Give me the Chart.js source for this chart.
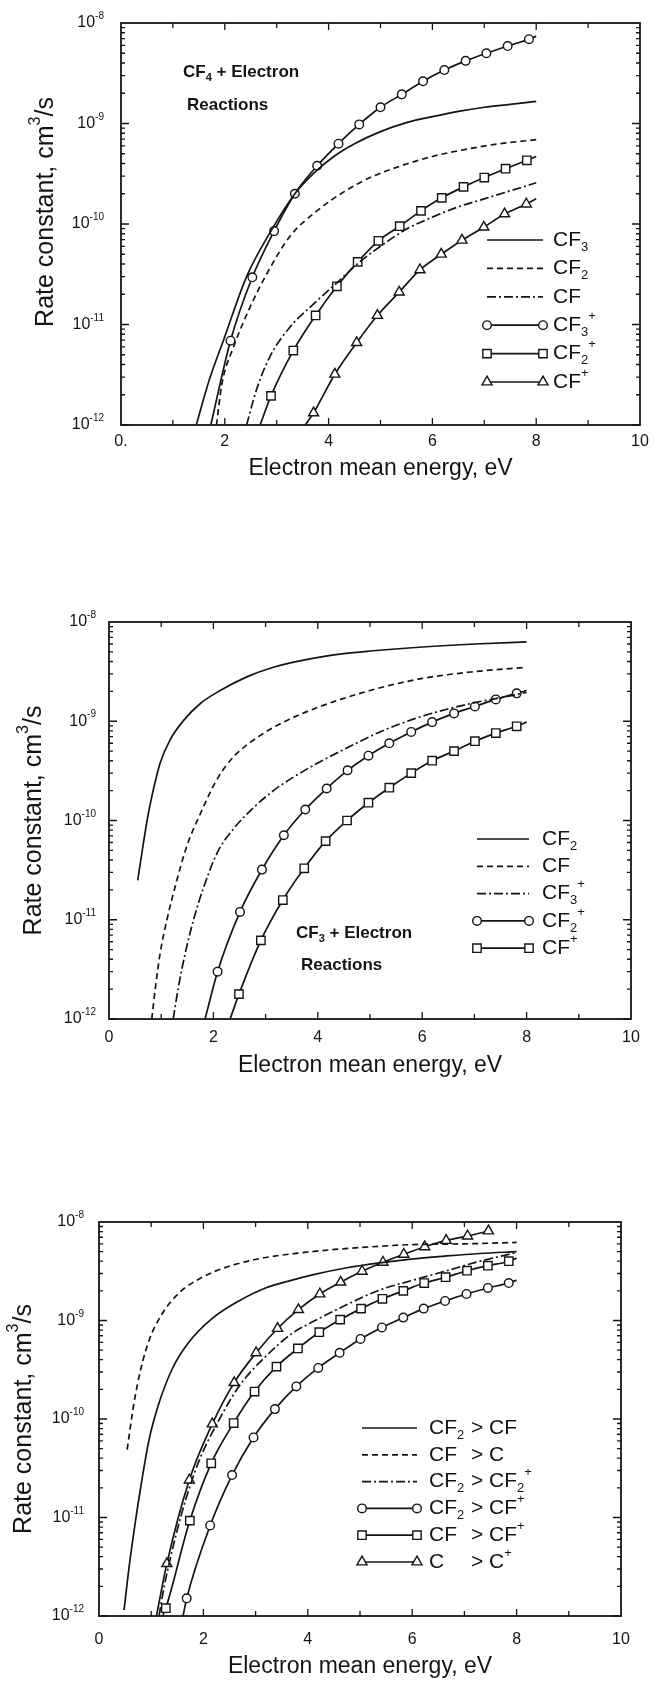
<!DOCTYPE html>
<html>
<head>
<meta charset="utf-8">
<script src="https://cdn.jsdelivr.net/npm/chart.js@4.4.1/dist/chart.umd.min.js"></script>
<style>
  body { margin: 0; background: #fff; width: 654px; height: 1685px; position: relative; overflow: hidden; }
  canvas { position: absolute; left: 0; }
</style>
</head>
<body>
<canvas id="c1" width="654" height="490" style="top:0px"></canvas>
<canvas id="c2" width="654" height="530" style="top:560px"></canvas>
<canvas id="c3" width="654" height="515" style="top:1170px"></canvas>
<script>
// axes
const xTicks = [0, 2, 4, 6, 8, 10];
const xLabelsFirst = ['0.', '2', '4', '6', '8', '10'];
const xLabels = ['0', '2', '4', '6', '8', '10'];
const yDecades = [-12, -11, -10, -9, -8];

// ---- panel 1: CF4 + electron ----
const p1Labels = ['CF_3', 'CF_2', 'CF', 'CF_3^+', 'CF_2^+', 'CF^+'];
const p1Cf3E = [1.45, 1.7, 1.98, 2.42, 2.9, 3.35, 3.7, 4.1, 4.5, 5.0, 5.5, 6.0, 6.5, 7.0, 7.5, 8.0];
const p1Cf3K = [1e-12, 2.8e-12, 7.1e-12, 3.0e-11, 8.7e-11, 2.0e-10, 3.16e-10, 4.7e-10, 6.3e-10, 8.3e-10, 1.02e-9, 1.17e-9, 1.32e-9, 1.45e-9, 1.55e-9, 1.66e-9];
const p1Cf2E = [1.84, 1.94, 2.17, 2.49, 2.81, 3.26, 3.8, 4.3, 4.8, 5.4, 6.0, 6.7, 7.3, 8.0];
const p1Cf2K = [1e-12, 2.5e-12, 6.0e-12, 1.5e-11, 3.2e-11, 7.6e-11, 1.38e-10, 2.1e-10, 2.9e-10, 3.8e-10, 4.7e-10, 5.6e-10, 6.3e-10, 6.9e-10];
const p1CfE = [2.42, 2.61, 2.87, 3.26, 3.64, 4.16, 4.6, 5.0, 5.5, 6.0, 6.5, 7.0, 7.5, 8.0];
const p1CfK = [1e-12, 2.24e-12, 4.8e-12, 9.5e-12, 1.48e-11, 2.6e-11, 4.2e-11, 6.0e-11, 8.9e-11, 1.17e-10, 1.48e-10, 1.78e-10, 2.14e-10, 2.57e-10];
const p1Cf3pE = [1.73, 2.11, 2.53, 2.95, 3.35, 3.78, 4.19, 4.59, 5.0, 5.41, 5.82, 6.23, 6.64, 7.04, 7.45, 7.86, 8.0];
const p1Cf3pK = [1e-12, 6.9e-12, 2.95e-11, 8.5e-11, 2.0e-10, 3.8e-10, 6.3e-10, 9.8e-10, 1.45e-9, 1.95e-9, 2.63e-9, 3.4e-9, 4.2e-9, 5.0e-9, 5.9e-9, 6.9e-9, 7.4e-9];
const p1Cf2pE = [2.68, 2.89, 3.32, 3.75, 4.16, 4.56, 4.96, 5.37, 5.78, 6.18, 6.6, 7.0, 7.41, 7.82, 8.0];
const p1Cf2pK = [1e-12, 1.95e-12, 5.5e-12, 1.23e-11, 2.4e-11, 4.2e-11, 6.8e-11, 9.5e-11, 1.35e-10, 1.82e-10, 2.34e-10, 2.9e-10, 3.55e-10, 4.3e-10, 4.7e-10];
const p1CfpE = [3.55, 3.71, 4.12, 4.54, 4.94, 5.36, 5.76, 6.17, 6.57, 6.99, 7.39, 7.81, 8.0];
const p1CfpK = [1e-12, 1.32e-12, 3.2e-12, 6.6e-12, 1.23e-11, 2.1e-11, 3.5e-11, 5.0e-11, 6.9e-11, 9.3e-11, 1.26e-10, 1.58e-10, 1.78e-10];

// ---- panel 2: CF3 + electron ----
const p2Labels = ['CF_2', 'CF', 'CF_3^+', 'CF_2^+', 'CF^+'];
const p2Cf2E = [0.55, 0.63, 0.73, 0.82, 0.98, 1.17, 1.43, 1.75, 2.13, 2.64, 3.15, 3.8, 4.5, 5.0, 6.0, 7.0, 8.0];
const p2Cf2K = [2.5e-11, 4.7e-11, 1.0e-10, 1.74e-10, 3.8e-10, 6.5e-10, 1.02e-9, 1.51e-9, 2.04e-9, 2.8e-9, 3.5e-9, 4.2e-9, 4.8e-9, 5.1e-9, 5.6e-9, 6.0e-9, 6.3e-9];
const p2CfE = [0.82, 0.89, 0.98, 1.11, 1.3, 1.49, 1.75, 2.07, 2.39, 2.9, 3.41, 4.0, 5.0, 6.0, 7.0, 8.0];
const p2CfK = [1e-12, 2.1e-12, 4.6e-12, 1.0e-11, 2.5e-11, 5.5e-11, 1.17e-10, 2.6e-10, 4.4e-10, 7.2e-10, 1.02e-9, 1.38e-9, 2.04e-9, 2.7e-9, 3.16e-9, 3.5e-9];
const p2Cf3pE = [1.23, 1.33, 1.46, 1.62, 1.81, 2.07, 2.39, 2.77, 3.15, 3.54, 4.0, 4.5, 5.19, 5.83, 6.47, 7.11, 7.43, 8.0];
const p2Cf3pK = [1e-12, 2.1e-12, 4.6e-12, 1.0e-11, 2.1e-11, 4.7e-11, 8.3e-11, 1.35e-10, 2.0e-10, 2.75e-10, 3.8e-10, 5.2e-10, 7.8e-10, 1.05e-9, 1.32e-9, 1.58e-9, 1.7e-9, 1.95e-9];
const p2Cf2pE = [1.84, 2.08, 2.51, 2.93, 3.35, 3.76, 4.17, 4.57, 4.97, 5.37, 5.79, 6.19, 6.61, 7.01, 7.41, 7.81, 8.0];
const p2Cf2pK = [1e-12, 3.0e-12, 1.2e-11, 3.2e-11, 7.1e-11, 1.29e-10, 2.1e-10, 3.2e-10, 4.5e-10, 6.0e-10, 7.8e-10, 9.8e-10, 1.2e-9, 1.41e-9, 1.66e-9, 1.91e-9, 2.04e-9];
const p2CfpE = [2.32, 2.49, 2.91, 3.33, 3.74, 4.15, 4.56, 4.97, 5.37, 5.79, 6.19, 6.61, 7.01, 7.41, 7.81, 8.0];
const p2CfpK = [1e-12, 1.78e-12, 6.2e-12, 1.58e-11, 3.3e-11, 6.2e-11, 1.0e-10, 1.51e-10, 2.14e-10, 3.0e-10, 4.0e-10, 5.0e-10, 6.3e-10, 7.6e-10, 8.9e-10, 9.8e-10];

// ---- panel 3: CF2, CF, C + electron ----
const p3Labels = ['CF_2|> CF', 'CF|> C', 'CF_2|> CF_2^+', 'CF_2|> CF^+', 'CF|> CF^+', 'C|> C^+'];
const p3Cf2CfE = [0.48, 0.57, 0.7, 0.8, 0.96, 1.15, 1.4, 1.72, 2.17, 2.68, 3.19, 3.7, 4.11, 4.75, 5.38, 6.02, 6.66, 7.3, 8.0];
const p3Cf2CfK = [1.15e-12, 2.95e-12, 9.3e-12, 2.04e-11, 6.2e-11, 1.45e-10, 3.2e-10, 6.0e-10, 1.05e-9, 1.58e-9, 2.14e-9, 2.57e-9, 2.92e-9, 3.43e-9, 3.85e-9, 4.22e-9, 4.52e-9, 4.79e-9, 5.0e-9];
const p3CfCE = [0.54, 0.67, 0.8, 0.96, 1.21, 1.53, 1.98, 2.49, 3.13, 3.77, 4.4, 5.0, 6.0, 7.0, 8.0];
const p3CfCK = [4.9e-11, 1.45e-10, 3.2e-10, 6.3e-10, 1.17e-9, 1.9e-9, 2.75e-9, 3.55e-9, 4.3e-9, 4.8e-9, 5.2e-9, 5.5e-9, 5.9e-9, 6.0e-9, 6.2e-9];
const p3Cf2Cf2pE = [1.15, 1.25, 1.47, 1.66, 1.92, 2.3, 2.68, 3.19, 3.7, 4.11, 4.75, 5.38, 6.02, 6.66, 7.3, 8.0];
const p3Cf2Cf2pK = [1e-12, 2.0e-12, 6.5e-12, 1.51e-11, 3.8e-11, 9.8e-11, 2.14e-10, 4.3e-10, 7.4e-10, 9.8e-10, 1.45e-9, 2.04e-9, 2.57e-9, 3.2e-9, 4.0e-9, 4.9e-9];
const p3Cf2CfpE = [1.61, 1.68, 2.13, 2.55, 2.96, 3.37, 3.78, 4.2, 4.61, 5.01, 5.42, 5.83, 6.22, 6.63, 7.04, 7.45, 7.85, 8.0];
const p3Cf2CfpK = [1e-12, 1.51e-12, 8.3e-12, 2.7e-11, 6.5e-11, 1.26e-10, 2.14e-10, 3.3e-10, 4.7e-10, 6.5e-10, 8.5e-10, 1.07e-9, 1.32e-9, 1.58e-9, 1.86e-9, 2.14e-9, 2.4e-9, 2.57e-9];
const p3CfCfpE = [1.22, 1.28, 1.74, 2.15, 2.58, 2.98, 3.4, 3.81, 4.22, 4.62, 5.02, 5.43, 5.83, 6.23, 6.64, 7.05, 7.45, 7.85, 8.0];
const p3CfCfpK = [1e-12, 1.2e-12, 9.3e-12, 3.55e-11, 9.1e-11, 1.9e-10, 3.4e-10, 5.2e-10, 7.6e-10, 1.02e-9, 1.32e-9, 1.66e-9, 2.0e-9, 2.4e-9, 2.75e-9, 3.2e-9, 3.6e-9, 4.0e-9, 4.3e-9];
const p3CCpE = [1.1, 1.3, 1.73, 2.17, 2.59, 3.01, 3.42, 3.82, 4.23, 4.63, 5.04, 5.44, 5.84, 6.24, 6.65, 7.06, 7.46];
const p3CCpK = [1e-12, 3.4e-12, 2.4e-11, 8.9e-11, 2.34e-10, 4.7e-10, 8.3e-10, 1.29e-9, 1.86e-9, 2.45e-9, 3.16e-9, 3.9e-9, 4.7e-9, 5.6e-9, 6.5e-9, 7.2e-9, 8.1e-9];

const FONT = '"Liberation Sans", Arial, Helvetica, sans-serif';
const INK = '#141414';
const DASH = [6, 4];
const DASHDOT = [9, 3, 2, 3];
const MARK_R = { circle: 4.3, rect: 5.9, triangle: 5.8 };

// "CF_3^+" -> CF, subscript 3, superscript +
function parseRich(s) {
  const out = [];
  let i = 0;
  while (i < s.length) {
    const c = s[i];
    if (c === '_' || c === '^') {
      let t;
      if (s[i + 1] === '{') { const j = s.indexOf('}', i); t = s.slice(i + 2, j); i = j + 1; }
      else { t = s[i + 1]; i += 2; }
      out.push({ t: t, k: c });
    } else {
      let j = i;
      while (j < s.length && s[j] !== '_' && s[j] !== '^') j++;
      out.push({ t: s.slice(i, j), k: '' });
      i = j;
    }
  }
  return out;
}

function drawRich(ctx, s, x, y, size, opt) {
  opt = opt || {};
  const weight = opt.bold ? 'bold ' : '';
  const small = Math.round(size * 0.62);
  const parts = parseRich(s);
  let w = 0;
  parts.forEach(p => {
    ctx.font = weight + (p.k ? small : size) + 'px ' + FONT;
    w += ctx.measureText(p.t).width;
  });
  let cx = opt.align === 'right' ? x - w : opt.align === 'center' ? x - w / 2 : x;
  ctx.textAlign = 'left';
  ctx.textBaseline = 'middle';
  parts.forEach(p => {
    ctx.font = weight + (p.k ? small : size) + 'px ' + FONT;
    const dy = p.k === '_' ? size * 0.34 : p.k === '^' ? -size * 0.42 : 0;
    ctx.fillText(p.t, cx, y + dy);
    cx += ctx.measureText(p.t).width;
  });
}

function drawMark(ctx, style, x, y) {
  const r = MARK_R[style];
  ctx.beginPath();
  if (style === 'circle') ctx.arc(x, y, r, 0, Math.PI * 2);
  else if (style === 'rect') { const h = r * Math.SQRT1_2; ctx.rect(x - h, y - h, 2 * h, 2 * h); }
  else { ctx.moveTo(x, y - r); ctx.lineTo(x + r * 0.866, y + r * 0.5); ctx.lineTo(x - r * 0.866, y + r * 0.5); ctx.closePath(); }
  ctx.fillStyle = '#fff';
  ctx.fill();
  ctx.stroke();
}

// frame, inward ticks, tick labels, titles, notes and legend
const panelPlugin = {
  id: 'panel',
  afterDatasetsDraw(chart, args, o) {
    const ctx = chart.ctx, a = chart.chartArea;
    const xs = chart.scales.x, ys = chart.scales.y;
    ctx.save();
    ctx.strokeStyle = INK;
    ctx.fillStyle = INK;
    ctx.lineWidth = 1.8;
    ctx.strokeRect(a.left, a.top, a.right - a.left, a.bottom - a.top);

    ctx.lineWidth = 1.3;
    ctx.beginPath();
    for (let v = 1; v < 10; v++) {
      const px = xs.getPixelForValue(v);
      const len = v % 2 ? 5 : 7;
      ctx.moveTo(px, a.bottom); ctx.lineTo(px, a.bottom - len);
      ctx.moveTo(px, a.top); ctx.lineTo(px, a.top + len);
    }
    for (let d = yDecades[0]; d < yDecades[yDecades.length - 1]; d++) {
      for (let m = 1; m < 10; m++) {
        const py = ys.getPixelForValue(m * Math.pow(10, d));
        const len = m === 1 ? 8 : 4;
        ctx.moveTo(a.left, py); ctx.lineTo(a.left + len, py);
        ctx.moveTo(a.right, py); ctx.lineTo(a.right - len, py);
      }
    }
    ctx.stroke();

    ctx.fillStyle = INK;
    xTicks.forEach((v, i) => drawRich(ctx, o.xLabels[i], xs.getPixelForValue(v), a.bottom + o.xTickGap, 16, { align: 'center' }));
    yDecades.forEach(d => drawRich(ctx, '10^{' + d + '}', a.left - o.yTickGap, ys.getPixelForValue(Math.pow(10, d)), 16, { align: 'right' }));

    drawRich(ctx, 'Electron mean energy, eV', (a.left + a.right) / 2, a.bottom + o.xTitleGap, 23, { align: 'center' });
    ctx.save();
    ctx.translate(a.left - 75, (a.top + a.bottom) / 2 + o.yTitleShift);
    ctx.rotate(-Math.PI / 2);
    drawRich(ctx, 'Rate constant, cm^3/s', 0, 0, 25, { align: 'center' });
    ctx.restore();

    (o.notes || []).forEach(n => drawRich(ctx, n.t, a.left + n.dx, a.top + n.dy, 17, { bold: true }));

    const L = o.legend;
    chart.data.datasets.forEach((ds, i) => {
      const y = a.top + L.dy0 + i * L.step;
      const x0 = a.left + L.dx, x1 = x0 + L.len;
      ctx.lineWidth = 1.7;
      ctx.strokeStyle = INK;
      ctx.setLineDash(ds.borderDash || []);
      ctx.beginPath(); ctx.moveTo(x0, y); ctx.lineTo(x1, y); ctx.stroke();
      ctx.setLineDash([]);
      if (ds.mark) { ctx.lineWidth = 1.4; drawMark(ctx, ds.mark, x0, y); drawMark(ctx, ds.mark, x1, y); }
      ctx.fillStyle = INK;
      const cols = ds.label.split('|');
      drawRich(ctx, cols[0], a.left + L.tx, y, 21);
      if (cols[1]) drawRich(ctx, cols[1], a.left + L.tx + L.col, y, 21);
    });
    ctx.restore();
  }
};

function line(label, e, k, dash) {
  return {
    label: label,
    data: e.map((v, i) => ({ x: v, y: k[i] })),
    borderColor: INK, borderWidth: 1.7, borderDash: dash || [],
    pointRadius: 0, cubicInterpolationMode: 'monotone', fill: false
  };
}

// marked curve: bare = indices drawn without a marker (line ends)
function marked(label, e, k, mark, bare) {
  const ds = line(label, e, k);
  ds.mark = mark;
  ds.pointStyle = mark;
  ds.pointRadius = e.map((v, i) => bare.includes(i) ? 0 : MARK_R[mark]);
  ds.pointBackgroundColor = '#fff';
  ds.pointBorderColor = INK;
  ds.pointBorderWidth = 1.4;
  return ds;
}

function makePanel(id, datasets, pad, opts) {
  new Chart(document.getElementById(id), {
    type: 'line',
    data: { datasets: datasets },
    options: {
      responsive: false,
      animation: false,
      layout: { padding: pad },
      plugins: { legend: { display: false }, tooltip: { enabled: false }, panel: opts },
      scales: {
        x: { type: 'linear', min: 0, max: 10, display: false },
        y: { type: 'logarithmic', min: 1e-12, max: 1e-8, display: false }
      }
    },
    plugins: [panelPlugin]
  });
}

makePanel('c1', [
  line(p1Labels[0], p1Cf3E, p1Cf3K),
  line(p1Labels[1], p1Cf2E, p1Cf2K, DASH),
  line(p1Labels[2], p1CfE, p1CfK, DASHDOT),
  marked(p1Labels[3], p1Cf3pE, p1Cf3pK, 'circle', [0, p1Cf3pE.length - 1]),
  marked(p1Labels[4], p1Cf2pE, p1Cf2pK, 'rect', [0, p1Cf2pE.length - 1]),
  marked(p1Labels[5], p1CfpE, p1CfpK, 'triangle', [0, p1CfpE.length - 1])
], { left: 121, right: 14, top: 23, bottom: 65 }, {
  xLabels: xLabelsFirst, xTickGap: 17, yTickGap: 17, xTitleGap: 44, yTitleShift: -12,
  notes: [{ t: 'CF_4 + Electron', dx: 62, dy: 49 }, { t: 'Reactions', dx: 66, dy: 82 }],
  legend: { dx: 366, len: 56, tx: 432, dy0: 217, step: 28.4 }
});

makePanel('c2', [
  line(p2Labels[0], p2Cf2E, p2Cf2K),
  line(p2Labels[1], p2CfE, p2CfK, DASH),
  line(p2Labels[2], p2Cf3pE, p2Cf3pK, DASHDOT),
  marked(p2Labels[3], p2Cf2pE, p2Cf2pK, 'circle', [0, p2Cf2pE.length - 1]),
  marked(p2Labels[4], p2CfpE, p2CfpK, 'rect', [0, p2CfpE.length - 1])
], { left: 109, right: 23, top: 62, bottom: 71 }, {
  xLabels: xLabels, xTickGap: 19, yTickGap: 13, xTitleGap: 47, yTitleShift: 0,
  notes: [{ t: 'CF_3 + Electron', dx: 187, dy: 311 }, { t: 'Reactions', dx: 192, dy: 343 }],
  legend: { dx: 368, len: 52, tx: 433, dy0: 217, step: 27.3 }
});

makePanel('c3', [
  line(p3Labels[0], p3Cf2CfE, p3Cf2CfK),
  line(p3Labels[1], p3CfCE, p3CfCK, DASH),
  line(p3Labels[2], p3Cf2Cf2pE, p3Cf2Cf2pK, DASHDOT),
  marked(p3Labels[3], p3Cf2CfpE, p3Cf2CfpK, 'circle', [0, p3Cf2CfpE.length - 1]),
  marked(p3Labels[4], p3CfCfpE, p3CfCfpK, 'rect', [0, p3CfCfpE.length - 1]),
  marked(p3Labels[5], p3CCpE, p3CCpK, 'triangle', [0])
], { left: 99, right: 33, top: 52, bottom: 69 }, {
  xLabels: xLabels, xTickGap: 24, yTickGap: 15, xTitleGap: 51, yTitleShift: 0,
  legend: { dx: 263, len: 55, tx: 330, dy0: 206, step: 26.8, col: 42 }
});
</script>
</body>
</html>
